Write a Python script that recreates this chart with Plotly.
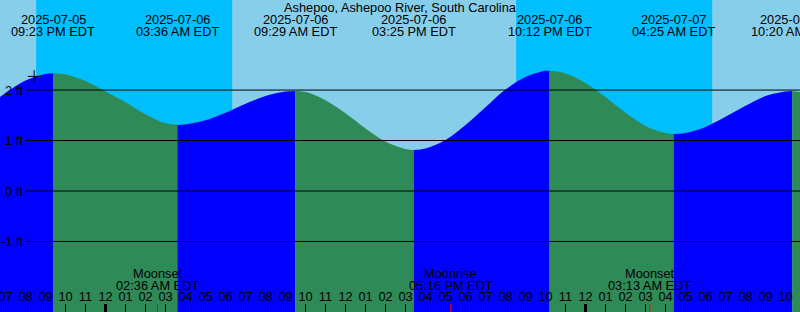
import plotly.graph_objects as go
import pandas as pd

TITLE = "Ashepoo, Ashepoo River, South Carolina"
FONT = "Liberation Sans"

# High / low tide events
ext_times = ["2025-07-05 21:23", "2025-07-06 03:36", "2025-07-06 09:29", "2025-07-06 15:25",
             "2025-07-06 22:12", "2025-07-07 04:25", "2025-07-07 10:20"]
ext_levels = [2.335, 1.31, 1.98, 0.81, 2.38, 1.13, 1.98]
ext_dates = ["2025-07-05", "2025-07-06", "2025-07-06", "2025-07-06", "2025-07-06", "2025-07-07", "2025-07-07"]
ext_clock = ["09:23 PM EDT", "03:36 AM EDT", "09:29 AM EDT", "03:25 PM EDT",
             "10:12 PM EDT", "04:25 AM EDT", "10:20 AM EDT"]

# Hourly tide levels (ft), 2025-07-05 18:00 .. 2025-07-07 11:00
hour_start = "2025-07-05 18:00"
hour_levels = [1.64, 1.94, 2.19, 2.32, 2.31, 2.18, 1.97, 1.76, 1.52, 1.34,
               1.32, 1.40, 1.55, 1.73, 1.88, 1.97, 1.96, 1.80, 1.54, 1.24,
               0.98, 0.83, 0.84, 1.01, 1.31, 1.66, 2.01, 2.26, 2.38, 2.33,
               2.14, 1.86, 1.55, 1.29, 1.15, 1.15, 1.27, 1.47, 1.69, 1.88,
               1.97, 1.95]

# Night intervals (sunset -> sunrise)
night_start = ["2025-07-05 20:32", "2025-07-06 20:32"]
night_end = ["2025-07-06 06:20", "2025-07-07 06:20"]

# Moon events
moon_times = ["2025-07-06 02:36", "2025-07-06 17:16", "2025-07-07 03:13"]
moon_kind = ["Moonset", "Moonrise", "Moonset"]
moon_clock = ["02:36 AM EDT", "05:16 PM EDT", "03:13 AM EDT"]

midnights = ["2025-07-06 00:00", "2025-07-07 00:00"]

# current-time mark
mark_time = ["2025-07-05 20:26"]
mark_level = [2.27]

y_ticks = [-1, 0, 1, 2]
y_labels = ["-1 ft", "0 ft", "1 ft", "2 ft"]

X_RANGE = ["2025-07-05 18:43:30", "2025-07-07 10:43:30"]
Y_RANGE = [-2.397, 3.784]
BOTTOM = -3.0

DAY = "#87CEEB"
NIGHT = "#00BFFF"
RISE = "#0000FF"
FALL = "#2E8B57"

W, H = 800, 312

hours = pd.date_range(hour_start, periods=len(hour_levels), freq="h")
hdf = pd.DataFrame({"t": hours, "v": hour_levels})
ext = pd.DataFrame({"t": pd.to_datetime(ext_times), "v": ext_levels})
allpts = pd.concat([hdf, ext]).drop_duplicates("t").sort_values("t").reset_index(drop=True)

fig = go.Figure()

bounds = [allpts.t.iloc[0]] + list(ext.t) + [allpts.t.iloc[-1]]
for i in range(len(bounds) - 1):
    t0, t1 = bounds[i], bounds[i + 1]
    seg = allpts[(allpts.t >= t0) & (allpts.t <= t1)]
    xs, ys = list(seg.t), list(seg.v)
    rising = ys[-1] > ys[0]
    col = RISE if rising else FALL
    fig.add_trace(go.Scatter(x=[xs[0], xs[-1]], y=[BOTTOM, BOTTOM], mode="lines",
                             line=dict(width=0, color=col), hoverinfo="skip", showlegend=False))
    fig.add_trace(go.Scatter(x=xs, y=ys, mode="lines", fill="tonexty", fillcolor=col,
                             line=dict(width=0, color=col, shape="spline", smoothing=1),
                             hoverinfo="skip", showlegend=False))

fig.add_trace(go.Scatter(x=mark_time, y=mark_level, mode="markers",
                         marker=dict(symbol="cross-thin", size=9, line=dict(width=1, color="black")),
                         showlegend=False, hoverinfo="skip"))

shapes = []
for a, b in zip(night_start, night_end):
    shapes.append(dict(type="rect", xref="x", yref="paper", x0=a, x1=b, y0=0, y1=1,
                       fillcolor=NIGHT, line=dict(width=0), layer="below"))
for v in y_ticks:
    shapes.append(dict(type="line", xref="paper", yref="y", x0=26 / W, x1=1, y0=v, y1=v,
                       line=dict(color="black", width=1), layer="above"))
for m in midnights:
    shapes.append(dict(type="line", xref="x", yref="paper", x0=m, x1=m, y0=0, y1=8 / H,
                       line=dict(color="black", width=3), layer="above"))
for m in moon_times:
    shapes.append(dict(type="line", xref="x", yref="paper", x0=m, x1=m, y0=0, y1=8 / H,
                       line=dict(color="red", width=1), layer="above"))

font = dict(family=FONT, size=12.8, color="black")
ann = []
ann.append(dict(text=TITLE, xref="paper", yref="paper", x=0.5, y=1 - 7.3 / H,
                xanchor="center", yanchor="middle", showarrow=False, font=font))
for t, d, c in zip(ext_times, ext_dates, ext_clock):
    ann.append(dict(text=d, xref="x", yref="paper", x=t, y=1 - 19.5 / H,
                    xanchor="center", yanchor="middle", showarrow=False, font=font))
    ann.append(dict(text=c, xref="x", yref="paper", x=t, y=1 - 31.3 / H,
                    xanchor="center", yanchor="middle", showarrow=False, font=font))
for t, k, c in zip(moon_times, moon_kind, moon_clock):
    ann.append(dict(text=k, xref="x", yref="paper", x=t, y=1 - 273.3 / H,
                    xanchor="center", yanchor="middle", showarrow=False, font=font))
    ann.append(dict(text=c, xref="x", yref="paper", x=t, y=1 - 285.5 / H,
                    xanchor="center", yanchor="middle", showarrow=False, font=font))
for v, lab in zip(y_ticks, y_labels):
    ann.append(dict(text=lab, xref="paper", yref="y", x=24.5 / W, y=v,
                    xanchor="right", yanchor="middle", showarrow=False, font=font))

fig.update_layout(
    width=W, height=H, margin=dict(l=0, r=0, t=0, b=0, pad=0, autoexpand=False),
    plot_bgcolor=DAY, paper_bgcolor=DAY,
    shapes=shapes, annotations=ann, showlegend=False,
    xaxis=dict(type="date", range=X_RANGE, showgrid=False, zeroline=False, showline=False,
               ticks="inside", ticklen=8, tickwidth=1, tickcolor="black",
               dtick=3600000, tick0="2025-07-06 00:00", tickformat="%I",
               ticklabelposition="inside", ticklabeloverflow="allow",
               tickfont=font, fixedrange=True, automargin=False),
    yaxis=dict(range=Y_RANGE, showgrid=False, zeroline=False, showticklabels=False,
               ticks="", showline=False, fixedrange=True, automargin=False),
)

fig.write_html("out.html")
